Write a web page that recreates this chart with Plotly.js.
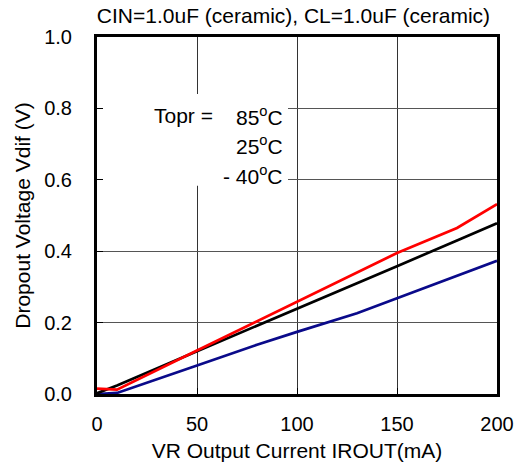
<!DOCTYPE html>
<html>
<head>
<meta charset="utf-8">
<script src="https://cdn.plot.ly/plotly-3.0.1.min.js"></script>
<style>html,body{margin:0;padding:0;background:#fff;}#chart{width:525px;height:471px;}</style>
</head>
<body>
<div id="chart"></div>
<script>
// Output current (mA)
const current = [0, 10, 50, 80, 100, 130, 150, 180, 200];
// Dropout voltage (V) per temperature
const v85 = [0.015, 0.012, 0.122, 0.204, 0.258, 0.340, 0.395, 0.465, 0.532];
const v25 = [0.002, 0.024, 0.120, 0.191, 0.238, 0.310, 0.358, 0.430, 0.478];
const vm40 = [0.000, 0.003, 0.080, 0.138, 0.174, 0.226, 0.268, 0.331, 0.373];
const xTicks = [0, 50, 100, 150, 200];
const yTicks = [0.0, 0.2, 0.4, 0.6, 0.8, 1.0];
const yTickText = ['0.0', '0.2', '0.4', '0.6', '0.8', '1.0'];

const FONT = 'Liberation Sans, Arial, sans-serif';
const TICK = 20, TITLE = 21;
const traces = [
  {x: current, y: vm40, mode: 'lines', line: {color: '#0a0a8a', width: 2.7}, name: '-40C'},
  {x: current, y: v25, mode: 'lines', line: {color: '#000000', width: 2.7}, name: '25C'},
  {x: current, y: v85, mode: 'lines', line: {color: '#ff0000', width: 2.7}, name: '85C'}
];
const layout = {
  width: 525, height: 471,
  margin: {l: 97, r: 28, t: 37, b: 77},
  paper_bgcolor: '#fff', plot_bgcolor: '#fff',
  showlegend: false,
  font: {family: FONT, size: TICK, color: '#000'},
  title: {text: 'CIN=1.0uF (ceramic), CL=1.0uF (ceramic)', x: 0.559, xanchor: 'center', y: 0.966, yanchor: 'middle', font: {family: FONT, size: TITLE, color: '#000'}},
  xaxis: {
    range: [0, 200], tickvals: xTicks, ticktext: xTicks.map(String),
    showgrid: true, gridcolor: '#333', gridwidth: 1,
    showline: true, linecolor: '#000', linewidth: 3, mirror: true,
    ticks: 'inside', ticklen: 6, tickcolor: '#000', tickwidth: 1,
    zeroline: false, ticklabelstandoff: 10,
    tickfont: {family: FONT, size: TICK, color: '#000'},
    title: {text: 'VR Output Current IROUT(mA)', standoff: 10, font: {family: FONT, size: TITLE, color: '#000'}}
  },
  yaxis: {
    range: [0, 1.0], tickvals: yTicks, ticktext: yTickText,
    showgrid: true, gridcolor: '#555', gridwidth: 1,
    showline: true, linecolor: '#000', linewidth: 3, mirror: true,
    ticks: 'inside', ticklen: 6, tickcolor: '#000', tickwidth: 1,
    zeroline: false, ticklabelstandoff: 18,
    tickfont: {family: FONT, size: TICK, color: '#000'},
    title: {text: 'Dropout Voltage Vdif (V)', standoff: 8, font: {family: FONT, size: TITLE, color: '#000'}}
  },
  shapes: [
    {type: 'rect', xref: 'x', yref: 'y', x0: 3, x1: 95.5, y0: 0.583, y1: 0.84,
     fillcolor: '#fff', line: {width: 0}, layer: 'between'}
  ],
  annotations: [
    {xref: 'x', yref: 'y', x: 27.5, y: 0.78, text: 'Topr =', showarrow: false, xanchor: 'left', yanchor: 'middle', font: {family: FONT, size: TITLE}},
    {xref: 'x', yref: 'y', x: 94, y: 0.78, text: '85<sup>o</sup>C', showarrow: false, xanchor: 'right', yanchor: 'middle', font: {family: FONT, size: TITLE}},
    {xref: 'x', yref: 'y', x: 94, y: 0.697, text: '25<sup>o</sup>C', showarrow: false, xanchor: 'right', yanchor: 'middle', font: {family: FONT, size: TITLE}},
    {xref: 'x', yref: 'y', x: 94, y: 0.613, text: '- 40<sup>o</sup>C', showarrow: false, xanchor: 'right', yanchor: 'middle', font: {family: FONT, size: TITLE}}
  ]
};
Plotly.newPlot('chart', traces, layout, {displayModeBar: false, staticPlot: true});
</script>
</body>
</html>
